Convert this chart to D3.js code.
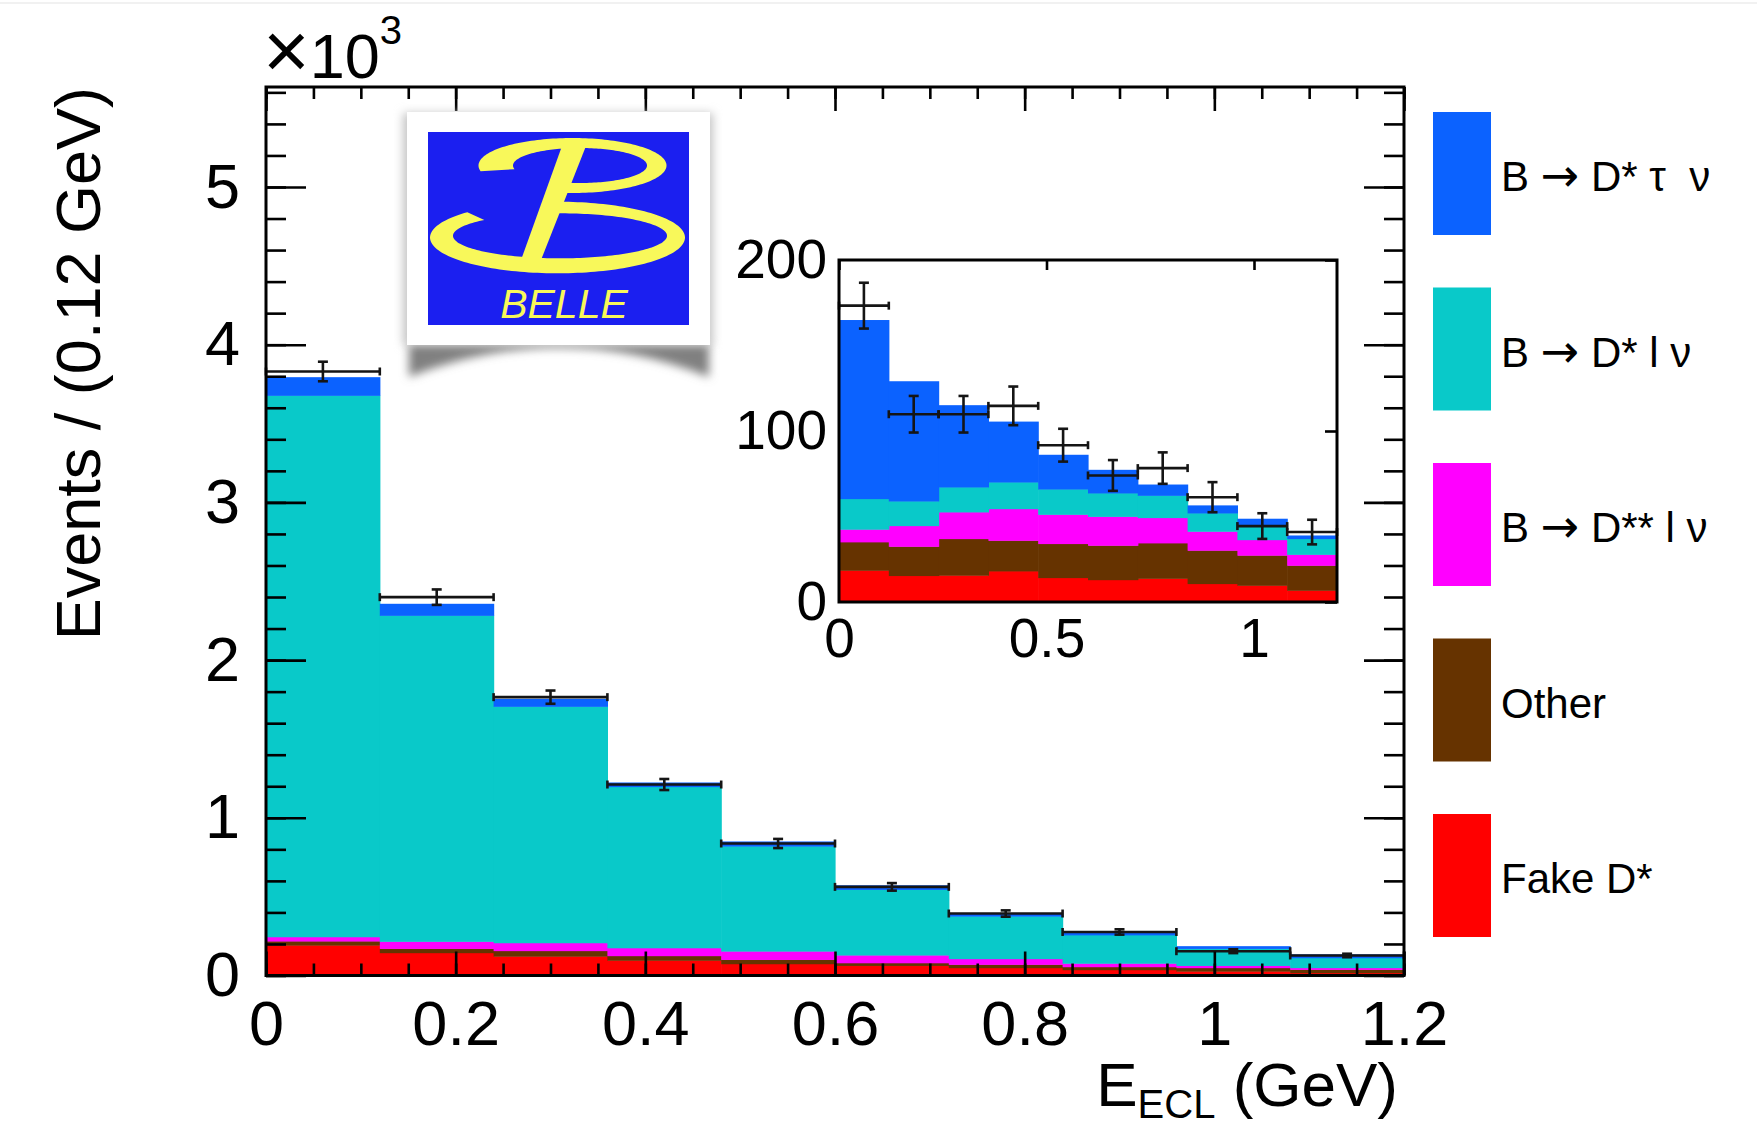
<!DOCTYPE html>
<html>
<head>
<meta charset="utf-8">
<script src="https://cdn.jsdelivr.net/npm/d3@7"></script>
<style>
  body { margin: 0; background: #fff; }
  svg text { font-family: "Liberation Sans", Arial, Helvetica, sans-serif; }
</style>
</head>
<body>
<div id="chart"></div>
<script>
// bins in E_ECL (GeV), lower edges
var binLow = [0, 0.12, 0.24, 0.36, 0.48, 0.60, 0.72, 0.84, 0.96, 1.08];
var binWidth = 0.12;

// main plot, events x 10^3 per component (stacked bottom to top)
var fakeMain  = [0.192, 0.144, 0.122, 0.096, 0.074, 0.063, 0.049, 0.036, 0.027, 0.017];
var otherMain = [0.026, 0.027, 0.035, 0.029, 0.027, 0.017, 0.021, 0.019, 0.022, 0.021];
var dssMain   = [0.027, 0.045, 0.050, 0.050, 0.053, 0.049, 0.036, 0.022, 0.014, 0.011];
var dslMain   = [3.433, 2.067, 1.499, 1.022, 0.666, 0.416, 0.270, 0.180, 0.108, 0.063];
var dstauMain = [0.116, 0.074, 0.048, 0.027, 0.030, 0.027, 0.020, 0.014, 0.015, 0.022];
var dataMain  = [3.830, 2.399, 1.765, 1.211, 0.837, 0.562, 0.393, 0.276, 0.154, 0.127];
var errMain   = [0.062, 0.049, 0.042, 0.035, 0.029, 0.024, 0.020, 0.017, 0.012, 0.011];

// inset, events
var fakeInset  = [18.5, 15.4, 15.6, 18.1, 14.2, 13.0, 13.8, 10.7, 9.7, 6.8];
var otherInset = [16.6, 17.1, 21.4, 17.9, 19.9, 20.1, 20.7, 19.5, 17.6, 14.6];
var dssInset   = [7.4, 12.1, 15.6, 18.5, 17.1, 16.9, 14.8, 11.1, 9.1, 6.4];
var dslInset   = [17.9, 14.4, 14.6, 15.6, 14.8, 13.7, 13.0, 10.7, 7.8, 9.2];
var dstauInset = [104.5, 70.1, 47.9, 35.4, 20.1, 13.6, 6.4, 4.5, 4.5, 1.9];
var dataInset  = [173.3, 109.8, 109.8, 114.7, 91.7, 74.0, 78.3, 61.3, 44.4, 40.9];
var errInset   = [13.4, 10.7, 10.7, 11.3, 9.6, 9.0, 9.2, 8.8, 7.5, 7.2];

// ticks
var xTicks = [0, 0.2, 0.4, 0.6, 0.8, 1.0, 1.2];
var xTickLabels = ["0", "0.2", "0.4", "0.6", "0.8", "1", "1.2"];
var yTicks = [0, 1, 2, 3, 4, 5];
var yTickLabels = ["0", "1", "2", "3", "4", "5"];
var insetXTicks = [0, 0.5, 1];
var insetXTickLabels = ["0", "0.5", "1"];
var insetYTicks = [0, 100, 200];
var insetYTickLabels = ["0", "100", "200"];

// legend (top to bottom)
var legendKeys = ["dstau", "dsl", "dss", "other", "fake"];
var legendColors = ["#0b62ff", "#09c9c9", "#ff00ff", "#663300", "#ff0000"];

var width = 1757
var height = 1129

var svg = d3.select("#chart")
	.append("svg")
	.attr("width", width)
	.attr("height", height);

svg.append("line")
	.attr("x1", 0).attr("x2", width)
	.attr("y1", 3).attr("y2", 3)
	.style("stroke", "#ececec")
	.style("stroke-width", 1.5);

var color = d3.scaleOrdinal().domain(legendKeys).range(legendColors);
var stackKeys = ["fake", "other", "dss", "dsl", "dstau"];

function makeRows(fake, other, dss, dsl, dstau) {
	return binLow.map(function (lo, i) {
		return { lo: lo, fake: fake[i], other: other[i], dss: dss[i], dsl: dsl[i], dstau: dstau[i] };
	});
}

function drawStack(g, rows, xs, ys) {
	var series = d3.stack().keys(stackKeys)(rows);
	g.selectAll("g.layer")
		.data(series)
		.enter().append("g")
		.attr("class", "layer")
		.style("fill", function (d) { return color(d.key); })
		.selectAll("rect")
		.data(function (d) { return d; })
		.enter().append("rect")
		.attr("x", function (d) { return xs(d.data.lo); })
		.attr("width", function (d) { return xs(d.data.lo + binWidth) - xs(d.data.lo) + 0.6; })
		.attr("y", function (d) { return ys(d[1]); })
		.attr("height", function (d) { return Math.max(0, ys(d[0]) - ys(d[1]) + 0.4); });
}

function drawErrors(g, vals, errs, xs, ys, capH, capW) {
	var pts = g.selectAll("g.pt")
		.data(vals)
		.enter().append("g")
		.attr("class", "pt")
		.style("stroke", "#151515")
		.style("stroke-width", 2.6)
		.style("fill", "none");
	function add(x1, y1, x2, y2) {
		pts.append("line").attr("x1", x1).attr("y1", y1).attr("x2", x2).attr("y2", y2);
	}
	var xl = function (d, i) { return xs(binLow[i]); };
	var xr = function (d, i) { return xs(binLow[i] + binWidth); };
	var xm = function (d, i) { return xs(binLow[i] + binWidth / 2); };
	var yv = function (d) { return ys(d); };
	var yt = function (d, i) { return ys(d + errs[i]); };
	var yb = function (d, i) { return ys(d - errs[i]); };
	add(xl, yv, xr, yv);
	add(xm, yt, xm, yb);
	add(xl, function (d) { return ys(d) - capH; }, xl, function (d) { return ys(d) + capH; });
	add(xr, function (d) { return ys(d) - capH; }, xr, function (d) { return ys(d) + capH; });
	add(function (d, i) { return xm(d, i) - capW; }, yt, function (d, i) { return xm(d, i) + capW; }, yt);
	add(function (d, i) { return xm(d, i) - capW; }, yb, function (d, i) { return xm(d, i) + capW; }, yb);
}

function styleAxis(g, size) {
	g.select(".domain").remove();
	g.selectAll(".tick line").style("stroke", "#000").style("stroke-width", 2.6);
	g.attr("font-family", null).attr("font-size", size);
	g.selectAll("text").style("fill", "#000");
}

// ---- main plot ----
var x = d3.scaleLinear().domain([0, 1.2]).range([266, 1404]);
var y = d3.scaleLinear().domain([0, 5.634]).range([975.5, 87]);

var main = svg.append("g");
drawStack(main, makeRows(fakeMain, otherMain, dssMain, dslMain, dstauMain), x, y);
drawErrors(main, dataMain, errMain, x, y, 4, 5);

var xMinor = d3.range(0, 1.2001, 0.05);
var yMinor = d3.range(0, 5.61, 0.2);

main.append("g").attr("transform", "translate(0,975.5)")
	.call(d3.axisBottom(x).tickValues(xMinor).tickSize(-12).tickFormat(""))
	.call(styleAxis, 60);
main.append("g").attr("transform", "translate(0,975.5)")
	.call(d3.axisBottom(x).tickValues(xTicks).tickSize(-24).tickPadding(25)
		.tickFormat(function (d, i) { return xTickLabels[i]; }))
	.call(styleAxis, 63);
main.append("g").attr("transform", "translate(0,87)")
	.call(d3.axisTop(x).tickValues(xMinor).tickSize(-12).tickFormat(""))
	.call(styleAxis, 60);
main.append("g").attr("transform", "translate(0,87)")
	.call(d3.axisTop(x).tickValues(xTicks).tickSize(-24).tickFormat(""))
	.call(styleAxis, 60);
main.append("g").attr("transform", "translate(266,0)")
	.call(d3.axisLeft(y).tickValues(yMinor).tickSize(-20).tickFormat(""))
	.call(styleAxis, 60);
main.append("g").attr("transform", "translate(266,0)")
	.call(d3.axisLeft(y).tickValues(yTicks).tickSize(-40).tickPadding(26)
		.tickFormat(function (d, i) { return yTickLabels[i]; }))
	.call(styleAxis, 63);
main.append("g").attr("transform", "translate(1404,0)")
	.call(d3.axisRight(y).tickValues(yMinor).tickSize(-20).tickFormat(""))
	.call(styleAxis, 60);
main.append("g").attr("transform", "translate(1404,0)")
	.call(d3.axisRight(y).tickValues(yTicks).tickSize(-40).tickFormat(""))
	.call(styleAxis, 60);

main.append("rect")
	.attr("x", 266).attr("y", 87)
	.attr("width", 1138).attr("height", 888.5)
	.style("fill", "none")
	.style("stroke", "#000")
	.style("stroke-width", 3);

// exponent
var expo = svg.append("text").attr("x", 263).attr("y", 78).style("font-size", "63px");
expo.append("tspan").style("font-size", "80px").text("\u00d7");
expo.append("tspan").text("10");
expo.append("tspan").attr("dy", -34).style("font-size", "40px").text("3");

// axis titles
svg.append("text")
	.attr("transform", "translate(100,87) rotate(-90)")
	.attr("text-anchor", "end")
	.style("font-size", "63px")
	.text("Events / (0.12 GeV)");

var xt = svg.append("text")
	.attr("x", 1398).attr("y", 1106)
	.attr("text-anchor", "end")
	.style("font-size", "62px");
xt.append("tspan").text("E");
xt.append("tspan").attr("dy", 12).style("font-size", "40px").text("ECL");
xt.append("tspan").attr("dy", -12).text(" (GeV)");

// ---- logo ----
var defs = svg.append("defs");
defs.append("filter").attr("id", "blur").attr("x", "-20%").attr("y", "-50%").attr("width", "140%").attr("height", "200%")
	.append("feGaussianBlur").attr("stdDeviation", 5);

var logo = svg.append("g");
logo.append("path")
	.attr("d", "M409,343 L709,343 L709,377 Q560,318 409,377 Z")
	.style("fill", "#808080")
	.attr("filter", "url(#blur)");
logo.append("rect")
	.attr("x", 403).attr("y", 113).attr("width", 310).attr("height", 232)
	.style("fill", "#c4c4c4")
	.attr("filter", "url(#blur)");
logo.append("rect")
	.attr("x", 407).attr("y", 112).attr("width", 303).attr("height", 233)
	.style("fill", "#fff");
logo.append("rect")
	.attr("x", 428).attr("y", 132).attr("width", 261).attr("height", 193)
	.style("fill", "#1b1ff0");

function ring(o, inn, t0, t1) {
	var ts = d3.range(t0, t1 + 0.5, 2).map(function (t) { return t * Math.PI / 180; });
	var outer = ts.map(function (t) { return [o[0] + o[2] * Math.cos(t), o[1] + o[3] * Math.sin(t)]; });
	var inner = ts.slice().reverse().map(function (t) { return [inn[0] + inn[2] * Math.cos(t), inn[1] + inn[3] * Math.sin(t)]; });
	return d3.line()(outer.concat(inner)) + "Z";
}
var yellow = "#f8f85a";
logo.append("path").attr("d", ring([572.5, 165.5, 94, 27.5], [580, 165.5, 67, 17.5], 168, 462)).style("fill", yellow);
logo.append("path").attr("d", ring([557.5, 237.5, 127.5, 35.8], [560, 235.8, 107, 22.5], -97, 225)).style("fill", yellow);
logo.append("path").attr("d", "M562,146 L586,146 L541,260 L521,260 Z").style("fill", yellow);
logo.append("text")
	.attr("x", 564).attr("y", 318)
	.attr("text-anchor", "middle")
	.style("font-size", "41px")
	.style("font-style", "italic")
	.style("fill", yellow)
	.text("BELLE");

// ---- inset ----
var xi = d3.scaleLinear().domain([0, 1.2]).range([839, 1337]);
var yi = d3.scaleLinear().domain([0, 200]).range([602, 260]);

var inset = svg.append("g");
inset.append("rect")
	.attr("x", 839).attr("y", 260).attr("width", 498).attr("height", 342)
	.style("fill", "#fff");
drawStack(inset, makeRows(fakeInset, otherInset, dssInset, dslInset, dstauInset), xi, yi);
drawErrors(inset, dataInset, errInset, xi, yi, 4, 5);

inset.append("g").attr("transform", "translate(0,602)")
	.call(d3.axisBottom(xi).tickValues(insetXTicks).tickSize(0).tickPadding(16)
		.tickFormat(function (d, i) { return insetXTickLabels[i]; }))
	.call(styleAxis, 55);
inset.append("g").attr("transform", "translate(839,0)")
	.call(d3.axisLeft(yi).tickValues(insetYTicks).tickSize(0).tickPadding(12)
		.tickFormat(function (d, i) { return insetYTickLabels[i]; }))
	.call(styleAxis, 55);
inset.append("g").attr("transform", "translate(0,260)")
	.call(d3.axisTop(xi).tickValues(insetXTicks).tickSize(-10).tickFormat(""))
	.call(styleAxis, 55);
inset.append("g").attr("transform", "translate(1337,0)")
	.call(d3.axisRight(yi).tickValues(insetYTicks).tickSize(-12).tickFormat(""))
	.call(styleAxis, 55);
inset.append("rect")
	.attr("x", 839).attr("y", 260).attr("width", 498).attr("height", 342)
	.style("fill", "none")
	.style("stroke", "#000")
	.style("stroke-width", 3);

// ---- legend ----
var legendText = [
	["B ", "\u2192", " D* ", "\u03c4", "  ", "\u03bd"],
	["B ", "\u2192", " D* l ", "\u03bd"],
	["B ", "\u2192", " D** l ", "\u03bd"],
	["Other"],
	["Fake D*"]
];
var leg = svg.append("g");
var rowY = d3.scaleBand().domain(legendKeys).range([112, 112 + 5 * 175.5]);
var items = leg.selectAll("g.item")
	.data(legendKeys)
	.enter().append("g")
	.attr("class", "item")
	.attr("transform", function (d) { return "translate(1433," + rowY(d) + ")"; });
items.append("rect")
	.attr("width", 58).attr("height", 123)
	.style("fill", function (d) { return color(d); });
items.append("text")
	.attr("x", 68).attr("y", 79)
	.attr("xml:space", "preserve")
	.style("font-size", "42px")
	.each(function (d, i) {
		var t = d3.select(this);
		legendText[i].forEach(function (s) {
			var sp = t.append("tspan").text(s);
			if (s === "\u2192") sp.style("font-family", "'DejaVu Sans', sans-serif").style("font-size", "46px");
		});
	});
</script>
</body>
</html>
